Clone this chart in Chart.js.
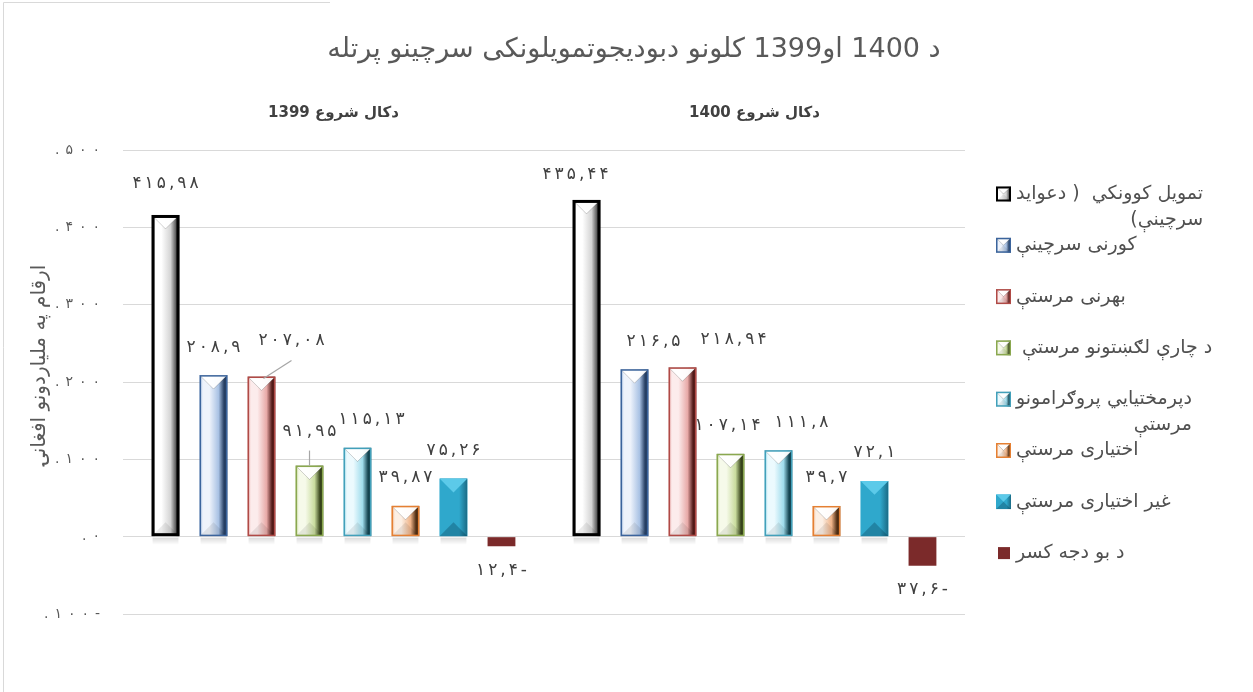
<!DOCTYPE html>
<html><head><meta charset="utf-8">
<script src="https://cdn.jsdelivr.net/npm/chart.js@4.4.0/dist/chart.umd.min.js"></script>
<style>html,body{margin:0;padding:0;background:#fff;}#wrap{position:relative;width:1253px;height:692px;}canvas{display:block;}</style>
</head><body><div id="wrap"><canvas id="c" width="1253" height="692"></canvas></div>
<script>
// ---------- DATA ----------
const categories = ['دکال شروع 1399', 'دکال شروع 1400'];
const seriesNames = [
  'تمویل کوونکي  ( دعواید سرچینې)',
  'کورنی سرچینې',
  'بهرنی مرستې',
  ' د چارې لګښتونو مرستې',
  'دپرمختیايي پروګرامونو مرستې',
  'اختیاری مرستې',
  'غیر اختیاری مرستې',
  'د بو دجه کسر'
];
const values1399 = [415.98, 208.9, 207.08, 91.95, 115.13, 39.87, 75.26, -12.4];
const values1400 = [435.44, 216.5, 218.94, 107.14, 111.8, 39.7, 72.1, -37.6];
const yTickValues = [-100, 0, 100, 200, 300, 400, 500];
const yTickLabels = ['.۱۰۰-', '.۰', '.۱۰۰', '.۲۰۰', '.۳۰۰', '.۴۰۰', '.۵۰۰'];
const chartTitle = 'د 1400 او1399 کلونو دبودیجوتمویلونکی سرچینو پرتله';
const yAxisTitle = 'ارقام په ملیاردونو افغانۍ';

// ---------- STYLE ----------
const styles = [
  {face:'#d4d4d4', light:'#ffffff', dark:'#555555', border:'#000000', bw:3, bevel:true},
  {face:'#a9c2e4', light:'#eef3fb', dark:'#263f63', border:'#3b649c', bw:1.5, bevel:true},
  {face:'#e8aaa8', light:'#fcecec', dark:'#521a18', border:'#b04a46', bw:1.5, bevel:true},
  {face:'#c9dc9e', light:'#f6faea', dark:'#36431a', border:'#8aa84f', bw:1.5, bevel:true},
  {face:'#9fdcec', light:'#ecfafe', dark:'#134350', border:'#42a0ba', bw:1.5, bevel:true},
  {face:'#efb489', light:'#fcefe4', dark:'#4f2d12', border:'#e58033', bw:1.5, bevel:true},
  {face:'#2fa8cc', light:'#5ccae9', dark:'#1a6a84', border:'#2a9cc0', bw:0, bevel:true, solid:true},
  {face:'#7b2a2a', border:'#7b2a2a', bw:0, bevel:false}
];
const FONT = "'DejaVu Sans', 'Noto Sans', sans-serif";
const labelNudges = { // "dataset:index" -> [dx, dy, leader]
  '0:0':[0,-3], '2:0':[30,-8,'diag'], '3:0':[0,-6,'vert'], '4:0':[14,0],
  '0:1':[-11,3], '1:1':[19,0], '2:1':[51,0], '3:1':[-3,0], '4:1':[23,0]
};

function toFa(v){
  const map='۰۱۲۳۴۵۶۷۸۹';
  const s=String(Math.abs(v)).replace('.',',').replace(/[0-9]/g,d=>map[d]);
  return v<0 ? s+'-' : s;
}
// draws a short left-to-right string with extra spacing between characters
function spacedText(ctx,text,x,y,sp,align){
  const chars=[...text];
  const ws=chars.map(c=>ctx.measureText(c).width);
  const total=ws.reduce((a,b)=>a+b,0)+sp*(chars.length-1);
  let cx = align==='right' ? x-total : align==='center' ? x-total/2 : x;
  ctx.save(); ctx.textAlign='left';
  chars.forEach((c,i)=>{ ctx.fillText(c,cx,y); cx+=ws[i]+sp; });
  ctx.restore();
}

function bevelRect(ctx,l,t,r,b,s){
  const w=r-l, cx=(l+r)/2;
  ctx.save();
  ctx.beginPath(); ctx.rect(l,t,w,b-t); ctx.clip();
  const g=ctx.createLinearGradient(l,0,r,0);
  if(s.solid){
    g.addColorStop(0,s.face); g.addColorStop(0.7,s.face); g.addColorStop(1,s.dark);
  } else {
    g.addColorStop(0,s.face); g.addColorStop(0.12,s.light); g.addColorStop(0.35,s.light);
    g.addColorStop(0.68,s.face); g.addColorStop(0.88,s.dark); g.addColorStop(1,s.dark);
  }
  ctx.fillStyle=g; ctx.fillRect(l,t,w,b-t);
  const d=Math.min(w*0.5,(b-t)*0.5);
  ctx.beginPath(); ctx.moveTo(l,t); ctx.lineTo(r,t); ctx.lineTo(cx,t+d); ctx.closePath();
  ctx.fillStyle = s.solid ? s.light : 'rgba(255,255,255,0.95)'; ctx.fill();
  if(!s.solid){ ctx.strokeStyle='rgba(0,0,0,0.18)'; ctx.lineWidth=1; ctx.stroke(); }
  ctx.beginPath(); ctx.moveTo(l,b); ctx.lineTo(r,b); ctx.lineTo(cx,b-d); ctx.closePath();
  ctx.fillStyle = s.solid ? 'rgba(0,40,60,0.28)' : 'rgba(0,0,0,0.08)'; ctx.fill();
  ctx.restore();
  if(s.bw>0){
    ctx.save(); ctx.lineWidth=s.bw; ctx.strokeStyle=s.border;
    ctx.strokeRect(l+s.bw/2,t+s.bw/2,w-s.bw,b-t-s.bw); ctx.restore();
  }
}

const decorPlugin = {
  id:'decor',
  afterDatasetsDraw(chart){
    const ctx=chart.ctx, y=chart.scales.y, zero=y.getPixelForValue(0);
    chart.data.datasets.forEach((ds,di)=>{
      const meta=chart.getDatasetMeta(di), s=styles[di];
      meta.data.forEach((el,i)=>{
        const l=el.x-el.width/2, r=el.x+el.width/2;
        const t=Math.min(el.y,el.base), b=Math.max(el.y,el.base);
        if(ds.data[i]>0){
          ctx.save();
          const sg=ctx.createLinearGradient(0,zero,0,zero+8);
          sg.addColorStop(0,'rgba(0,0,0,0.16)'); sg.addColorStop(1,'rgba(0,0,0,0)');
          ctx.fillStyle=sg; ctx.fillRect(l+1,zero+1,el.width-2,8); ctx.restore();
        }
        if(s.bevel) bevelRect(ctx,l,t,r,b,s);
      });
    });
    // data labels
    ctx.save();
    ctx.font='17px '+FONT; ctx.fillStyle='#404040'; ctx.textBaseline='middle'; ctx.direction='ltr';
    chart.data.datasets.forEach((ds,di)=>{
      const meta=chart.getDatasetMeta(di);
      meta.data.forEach((el,i)=>{
        const v=ds.data[i], n=labelNudges[di+':'+i]||[0,0];
        const lx=el.x+n[0];
        const ly=(v>=0? el.y-28 : el.y+24)+n[1];
        spacedText(ctx,toFa(v),lx,ly,3,'center');
        if(n[2]){
          ctx.save(); ctx.strokeStyle='#a6a6a6'; ctx.lineWidth=1.2; ctx.beginPath();
          if(n[2]==='diag'){ ctx.moveTo(lx,ly+20); ctx.lineTo(el.x+2,el.y+2); }
          else { ctx.moveTo(el.x,ly+19); ctx.lineTo(el.x,el.y); }
          ctx.stroke(); ctx.restore();
        }
      });
    });
    ctx.restore();
  },
  afterDraw(chart){
    const ctx=chart.ctx, ys=chart.scales.y;
    // title
    ctx.save();
    ctx.font="27px 'Liberation Sans Narrow', 'DejaVu Sans', sans-serif"; ctx.fillStyle='#595959';
    ctx.textAlign='center'; ctx.textBaseline='middle'; ctx.direction='rtl';
    ctx.fillText(chartTitle,634,50);
    ctx.restore();
    // y tick labels
    ctx.save();
    ctx.font='14px '+FONT; ctx.fillStyle='#595959'; ctx.textBaseline='middle'; ctx.direction='ltr';
    yTickValues.forEach((v,i)=>{ spacedText(ctx,yTickLabels[i],100,ys.getPixelForValue(v),6,'right'); });
    ctx.restore();
    // y axis title
    ctx.save();
    ctx.translate(40,365); ctx.rotate(-Math.PI/2);
    ctx.font='20px '+FONT; ctx.fillStyle='#595959'; ctx.textAlign='center'; ctx.textBaseline='middle';
    ctx.direction='rtl'; ctx.fillText(yAxisTitle,0,0);
    ctx.restore();
    // legend
    ctx.save();
    ctx.font='19px '+FONT; ctx.textBaseline='middle'; ctx.direction='rtl'; ctx.textAlign='right';
    const maxW=202, y0=194, step=51.3, lineH=26, iconL=996, iconS=15, textL=1016;
    seriesNames.forEach((name,i)=>{
      const cy=y0+i*step, s=styles[i];
      if(s.bevel){ bevelRect(ctx,iconL,cy-iconS/2,iconL+iconS,cy+iconS/2,Object.assign({},s,{bw:s.bw>0?Math.min(s.bw,2):0})); }
      else { ctx.fillStyle=s.face; ctx.fillRect(iconL+2,cy-6,12,12); }
      const words=name.trim().split(' ');
      const lines=[]; let cur='';
      words.forEach(w=>{
        const test=cur?cur+' '+w:w;
        if(ctx.measureText(test).width>maxW && cur){ lines.push(cur); cur=w; } else cur=test;
      });
      if(cur) lines.push(cur);
      const bw=Math.max(...lines.map(l=>ctx.measureText(l).width));
      ctx.fillStyle='#505050';
      lines.forEach((ln,k)=>{ ctx.fillText(ln,textL+bw+(name.startsWith(' ')?6:0),cy+k*lineH); });
    });
    ctx.restore();
    // frame lines
    ctx.save(); ctx.strokeStyle='#d9d9d9'; ctx.lineWidth=1;
    ctx.beginPath(); ctx.moveTo(3.5,692); ctx.lineTo(3.5,2.5); ctx.lineTo(330,2.5); ctx.stroke();
    ctx.restore();
  }
};

const datasets = seriesNames.map((name,i)=>({
  label:name,
  data:[values1399[i], values1400[i]],
  backgroundColor:styles[i].face,
  borderColor:styles[i].border,
  borderWidth:styles[i].bw,
  categoryPercentage:0.912,
  barPercentage:0.58
}));

new Chart(document.getElementById('c'),{
  type:'bar',
  data:{labels:categories, datasets},
  plugins:[decorPlugin],
  options:{
    responsive:false, animation:false, devicePixelRatio:1,
    layout:{padding:{left:0,right:288,top:0,bottom:78}},
    plugins:{ legend:{display:false}, tooltip:{enabled:false}, title:{display:false} },
    scales:{
      x:{position:'top',grid:{display:false,drawTicks:false},border:{display:false},
        ticks:{font:{size:15,weight:'bold',family:FONT},color:'#404040',padding:28},
        afterFit(s){ s.height=150; }},
      y:{min:-100,max:500,grid:{color:'#d9d9d9',drawTicks:false},border:{display:false},
        ticks:{stepSize:100,display:false},
        afterFit(s){ s.width=123; }}
    }
  }
});
</script></body></html>
